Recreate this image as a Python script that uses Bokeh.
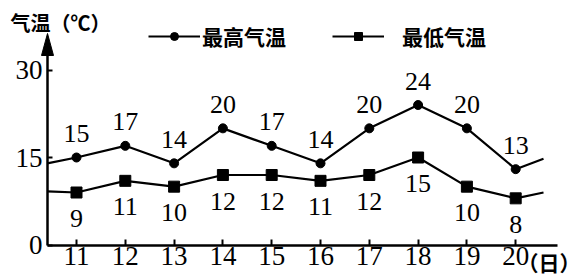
from bokeh.plotting import figure
from bokeh.models import (LinearAxis, FixedTicker, Range1d, Legend, LegendItem,
                          Label, ColumnDataSource)
from bokeh.core.properties import value
from bokeh.embed import file_html
from bokeh.resources import INLINE

# ---------------- data ----------------
days = [11, 12, 13, 14, 15, 16, 17, 18, 19, 20]
high = [15, 17, 14, 20, 17, 14, 20, 24, 20, 13]
low = [9, 11, 10, 12, 12, 11, 12, 15, 10, 8]
edge_days = [10.4, 20.57]        # where the lines run out at both ends
high_edges = [14.0, 14.8]
low_edges = [9.2, 9.0]
y_ticks = [0, 15, 30]
title_text = "气温（℃）"
x_unit_text = "（日）"
legend_labels = ["最高气温", "最低气温"]

# ---------------- layout constants (pixels) ----------------
W, H = 584, 276
X0_PX, DX_PX = 76.0, 48.8      # pixel of first day, pixels per day
Y0_PX, DY_PX = 244.5, 5.833    # pixel of 0 degree, pixels per degree
AXIS_X_PX = 47.0
AXIS_END_PX = 557.0
ARROW_TIP_PX, ARROW_BASE_PX, ARROW_HALF_W = 33.0, 55.0, 6.0

def data_x(px):
    return days[0] + (px - X0_PX) / DX_PX

def data_y(py):
    return (Y0_PX - py) / DY_PX

NUM_FONT = value("Liberation Serif")

p = figure(width=W, height=H, output_backend="svg", toolbar_location=None,
           x_range=Range1d(data_x(0), data_x(W)),
           y_range=Range1d(data_y(H), data_y(0)),
           x_axis_location=None, y_axis_location=None, min_border=0)
p.grid.visible = False
p.outline_line_color = None
p.background_fill_color = "white"
p.border_fill_color = "white"

axis_x = data_x(AXIS_X_PX)

# axes
xaxis = LinearAxis(ticker=FixedTicker(ticks=days), fixed_location=0,
                   bounds=(axis_x, data_x(AXIS_END_PX)))
xaxis.axis_line_width = 2.5
xaxis.major_tick_in = 6
xaxis.major_tick_out = 0
xaxis.major_tick_line_width = 2
xaxis.minor_tick_line_color = None
xaxis.major_label_standoff = 2
xaxis.major_label_text_font = "Liberation Serif"
xaxis.major_label_text_font_size = "27px"
xaxis.major_label_text_color = "black"
p.add_layout(xaxis, "below")

yaxis = LinearAxis(ticker=FixedTicker(ticks=y_ticks), fixed_location=axis_x,
                   bounds=(0, data_y(ARROW_BASE_PX) + 0.5))
yaxis.axis_line_width = 2.5
yaxis.major_tick_in = 5
yaxis.major_tick_out = 0
yaxis.major_tick_line_width = 2
yaxis.minor_tick_line_color = None
yaxis.major_label_standoff = 5
yaxis.major_label_text_font = "Liberation Serif"
yaxis.major_label_text_font_size = "27px"
yaxis.major_label_text_color = "black"
p.add_layout(yaxis, "left")

# arrow head on y axis
hw = ARROW_HALF_W / DX_PX
p.patch([axis_x - hw, axis_x, axis_x + hw],
        [data_y(ARROW_BASE_PX), data_y(ARROW_TIP_PX), data_y(ARROW_BASE_PX)],
        fill_color="black", line_color="black")

# lines
hx = [edge_days[0]] + days + [edge_days[1]]
hy = [high_edges[0]] + high + [high_edges[1]]
ly = [low_edges[0]] + low + [low_edges[1]]

hl = p.line(hx, hy, line_color="black", line_width=2.2)
hs = p.scatter(days, high, marker="circle", size=9, color="black")
ll = p.line(hx, ly, line_color="black", line_width=2.2)
ls = p.scatter(days, low, marker="square", size=11, color="black")

# value labels
src_h = ColumnDataSource(dict(x=days, y=high, t=[str(v) for v in high]))
src_l = ColumnDataSource(dict(x=days, y=low, t=[str(v) for v in low]))
p.text("x", "y", text="t", source=src_h, y_offset=-24, text_align="center",
       text_baseline="middle", text_font=NUM_FONT, text_font_size="26px",
       text_color="black")
p.text("x", "y", text="t", source=src_l, y_offset=26, text_align="center",
       text_baseline="middle", text_font=NUM_FONT, text_font_size="26px",
       text_color="black")

# legends
LEG_Y = H - 51
leg1 = Legend(items=[LegendItem(label=legend_labels[0], renderers=[hl, hs])],
              location=(148, LEG_Y), orientation="horizontal",
              glyph_width=52, glyph_height=20, label_height=20,
              label_standoff=2, padding=0, margin=0,
              border_line_color=None, background_fill_alpha=0,
              label_text_font="Noto Sans CJK SC", label_text_font_size="21px",
              label_text_font_style="bold", label_text_color="black")
leg2 = Legend(items=[LegendItem(label=legend_labels[1], renderers=[ll, ls])],
              location=(332, LEG_Y), orientation="horizontal",
              glyph_width=52, glyph_height=20, label_height=20,
              label_standoff=18, padding=0, margin=0,
              border_line_color=None, background_fill_alpha=0,
              label_text_font="Noto Sans CJK SC", label_text_font_size="21px",
              label_text_font_style="bold", label_text_color="black")
p.add_layout(leg1)
p.add_layout(leg2)

# title and unit labels
p.add_layout(Label(x=data_x(10), y=data_y(22), text=title_text,
                   text_align="left", text_baseline="middle",
                   text_font="Noto Sans CJK SC", text_font_size="20px",
                   text_font_style="bold", text_color="black"))
p.add_layout(Label(x=data_x(517), y=data_y(261), text=x_unit_text,
                   text_align="left", text_baseline="middle",
                   text_font="Noto Sans CJK SC", text_font_size="21px",
                   text_font_style="bold", text_color="black"))

open("out.html", "w").write(file_html(p, INLINE))
